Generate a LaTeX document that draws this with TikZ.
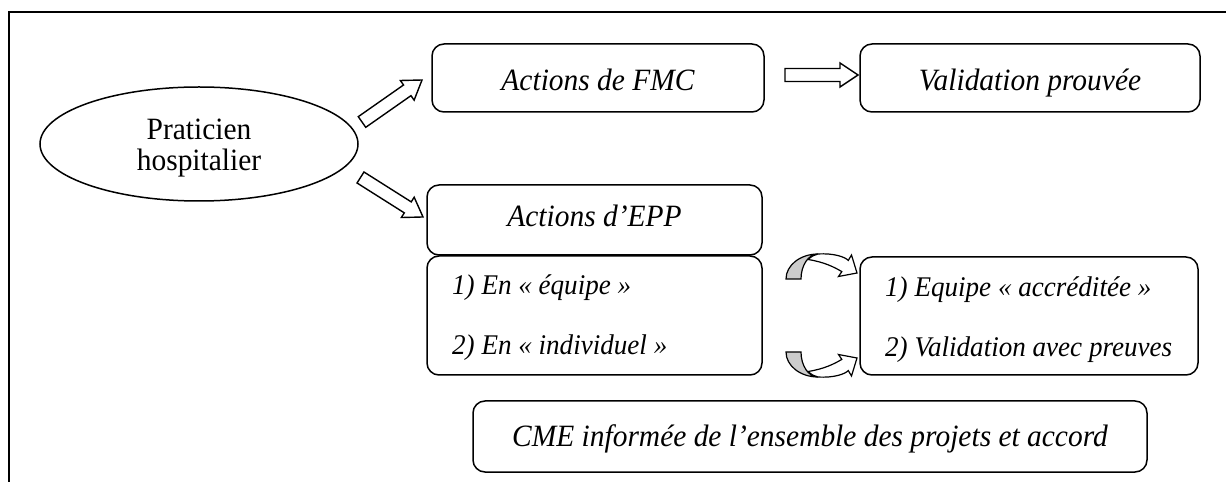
\documentclass[tikz,border=0pt]{standalone}
\usepackage{fontspec}
\setmainfont{Liberation Serif}[FakeStretch=0.95]
\usetikzlibrary{calc,shapes.geometric}

\tikzset{
  box/.style={draw, line width=1.5pt, rounded corners=12pt, inner sep=0pt},
  txt/.style={font=\fontsize{31}{34}\selectfont, anchor=base, inner sep=0pt},
  itxt/.style={txt, font=\fontsize{31}{34}\selectfont\itshape},
  ltxt/.style={txt, anchor=base west, font=\fontsize{28.5}{32}\selectfont\itshape},
  blockbody/.style={draw, fill=white, line width=1.4pt, line join=miter},
  bendbody/.style={draw, fill=white, line width=1.2pt, line join=miter},
}

% straight block arrow from #1 to #2
\newcommand{\blockarrow}[2]{%
  \path let \p1=($(#2)-(#1)$) in \pgfextra{%
    \pgfmathsetmacro{\baAngTmp}{atan2(\y1,\x1)}%
    \pgfmathsetmacro{\baLenTmp}{veclen(\x1,\y1)}%
    \xdef\baAng{\baAngTmp}\xdef\baLen{\baLenTmp}};
  \begin{scope}[shift={(#1)}, rotate=\baAng]
    \draw[blockbody] (0,-6.5) -- ({\baLen-18},-6.5) -- ({\baLen-18},-12) -- (\baLen,0)
      -- ({\baLen-18},12) -- ({\baLen-18},6.5) -- (0,6.5) -- cycle;
  \end{scope}}

% curved arrow with shaded underside, drawn in local coordinates
\newcommand{\bentarrow}{%
  \draw[bendbody, fill=gray!40] (0,0) arc[start angle=180, end angle=90, x radius=32, y radius=25]
    arc[start angle=90, end angle=180, x radius=17, y radius=25] -- cycle;
  \draw[bendbody] (32,25) .. controls (48,26) and (59,22) .. (62.3,18.6) -- (65.5,24)
    -- (71,6) -- (52.5,2.5) -- (55.8,7.4) .. controls (48,12) and (38,17) .. (22,19.5)
    .. controls (26,23) and (29,24.5) .. (32,25) -- cycle;}

\begin{document}
\begin{tikzpicture}[x=1pt, y=1pt]
  \useasboundingbox (0,0) rectangle (1226,482);

  % frame
  \draw[line width=2.3pt] (1226,470) -- (9,470) -- (9,0);

  % practitioner
  \node[draw, ellipse, line width=1.5pt, minimum width=318pt, minimum height=114pt, inner sep=0pt] (ph) at (199,338) {};
  \node[txt] (ph1) at (199,342) {Praticien};
  \node[txt] (ph2) at (199,311) {hospitalier};

  % boxes
  \node[box, minimum width=332pt, minimum height=68pt] (fmc) at (598,404) {};
  \node[box, minimum width=340pt, minimum height=68pt] (val) at (1030,404) {};
  \node[box, minimum width=335pt, minimum height=70pt] (epp) at (594.5,262) {};
  \node[box, minimum width=335pt, minimum height=119pt] (mode) at (594.5,166.5) {};
  \node[box, minimum width=338pt, minimum height=118pt] (acc) at (1029,166) {};
  \node[box, minimum width=674pt, minimum height=71pt] (cme) at (810,45.5) {};

  % labels
  \node[itxt] (tfmc) at (598,391) {Actions de FMC};
  \node[itxt] (tval) at (1030,391) {Validation prouvée};
  \node[itxt] (tepp) at (594.5,255) {Actions d’EPP};
  \node[ltxt] (m1) at (452,187) {1) En « équipe »};
  \node[ltxt] (m2) at (452,127) {2) En « individuel »};
  \node[ltxt] (a1) at (885,185) {1) Equipe « accréditée »};
  \node[ltxt] (a2) at (885,125) {2) Validation avec preuves};
  \node[itxt] (tcme) at (810,36) {CME informée de l’ensemble des projets et accord};

  % block arrows
  \coordinate (up0) at (362,360);   \coordinate (up1) at (422,402);
  \coordinate (dn0) at (360.5,304.5); \coordinate (dn1) at (423,265);
  \coordinate (hz0) at (785,407);   \coordinate (hz1) at (858,407);
  \blockarrow{up0}{up1}
  \blockarrow{dn0}{dn1}
  \blockarrow{hz0}{hz1}

  % curved arrows between the two lists
  \begin{scope}[shift={(786,203)}]
    \bentarrow
  \end{scope}
  \begin{scope}[shift={(786,130)}, yscale=-1]
    \bentarrow
  \end{scope}
\end{tikzpicture}
\end{document}
